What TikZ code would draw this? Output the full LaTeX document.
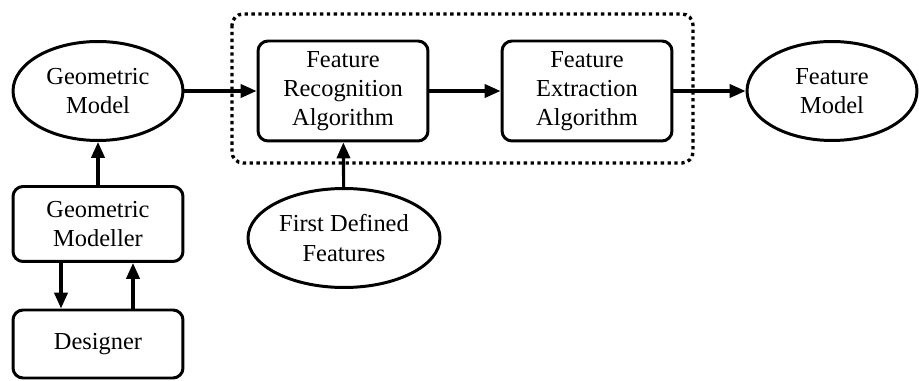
\documentclass[tikz,border=0pt]{standalone}
\usepackage{fontspec}
\setmainfont{Liberation Serif}
\usetikzlibrary{shapes.geometric,arrows.meta}
\begin{document}
\begin{tikzpicture}[x=0.02cm, y=-0.02cm,
  every node/.style={font=\fontsize{13.9}{16.6}\selectfont, align=center, line width=1.7pt, inner sep=0pt},
  oval/.style={draw, ellipse, minimum width=3.4cm, minimum height=1.98cm},
  block/.style={draw, rounded corners=0.2cm, minimum width=3.4cm},
  arrow/.style={line width=1.8pt, -{Triangle[length=9pt,width=7.5pt]}}]
\useasboundingbox (0,0) rectangle (919,381);
% nodes
\node[oval] (gmodel) at (98,91) {Geometric\\Model};
\node[block, minimum height=2cm] (recog) at (343,91) {Feature\\Recognition\\Algorithm};
\node[block, minimum height=2cm] (extract) at (587,91) {Feature\\Extraction\\Algorithm};
\node[oval] (fmodel) at (832,91) {Feature\\Model};
\node[block, minimum height=1.5cm] (modeller) at (98,224) {Geometric\\Modeller};
\node[block, minimum height=1.36cm] (designer) at (98,344) {Designer};
\node[oval, minimum width=3.84cm] (first) at (344,238) {First Defined\\Features};
% dotted frame
\draw[line width=1.9pt, dotted, rounded corners=0.22cm] (232,14) rectangle (693,163);
% connectors
\coordinate (down) at (61,0);
\coordinate (up) at (133,0);
\draw[arrow] (gmodel) -- (recog);
\draw[arrow] (recog) -- (extract);
\draw[arrow] (extract) -- (fmodel);
\draw[arrow] (modeller) -- (gmodel);
\draw[arrow] (first) -- (recog);
\draw[arrow] (modeller.south -| down) -- (designer.north -| down);
\draw[arrow] (designer.north -| up) -- (modeller.south -| up);
\end{tikzpicture}
\end{document}
